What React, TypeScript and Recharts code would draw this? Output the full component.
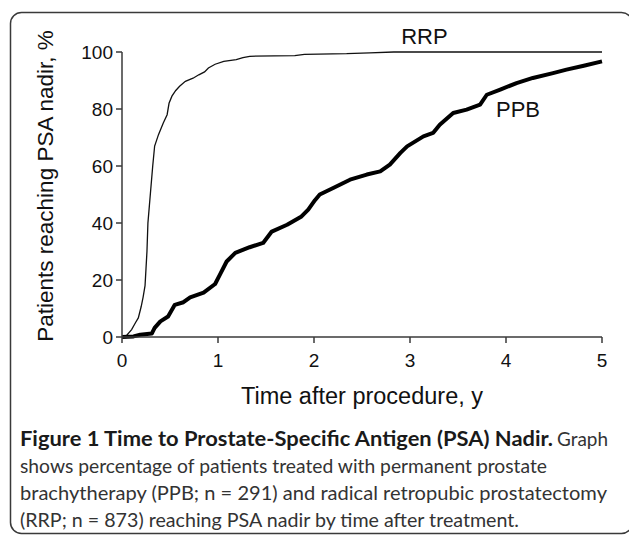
import React from 'react';
import { LineChart, Line, XAxis, YAxis, ReferenceDot, Label } from 'recharts';

// Radical retropubic prostatectomy (RRP): time (years) and % reaching PSA nadir
const rrpTime = [0, 0.05, 0.1, 0.14, 0.17, 0.2, 0.22, 0.24, 0.25, 0.26, 0.27, 0.285, 0.3, 0.32, 0.34, 0.38, 0.43, 0.47, 0.49, 0.52, 0.56, 0.6, 0.66, 0.74, 0.8, 0.86, 0.9, 0.97, 1.06, 1.19, 1.26, 1.33, 1.8, 1.9, 2.34, 2.58, 2.83, 5.0];
const rrpPct = [0, 0.6, 2.6, 5, 6.7, 10.7, 14, 18, 24, 30, 40, 46, 52, 60, 67, 71, 75.1, 78, 82, 84.5, 86.5, 88, 89.7, 90.8, 92, 93, 94.4, 95.7, 96.7, 97.3, 98, 98.5, 98.7, 99.2, 99.4, 99.7, 100, 100];

// Permanent prostate brachytherapy (PPB)
const ppbTime = [0, 0.12, 0.19, 0.31, 0.34, 0.4, 0.48, 0.55, 0.64, 0.71, 0.85, 0.97, 1.02, 1.09, 1.18, 1.33, 1.47, 1.56, 1.72, 1.87, 1.94, 2.01, 2.06, 2.2, 2.375, 2.55, 2.69, 2.79, 2.9, 2.97, 3.14, 3.24, 3.31, 3.45, 3.59, 3.73, 3.8, 3.94, 4.11, 4.28, 4.49, 4.63, 4.81, 5.0];
const ppbPct = [0, 0.2, 0.8, 1.2, 3.2, 5.5, 7.2, 11.3, 12.2, 13.9, 15.6, 18.6, 21.9, 26.5, 29.5, 31.5, 33, 37, 39.4, 42.3, 44.7, 48, 50, 52.3, 55.2, 57, 58.1, 60.5, 64.6, 66.9, 70.4, 71.6, 74.5, 78.6, 79.8, 81.5, 85, 86.8, 89.1, 90.9, 92.6, 93.8, 95.2, 96.7];

const xTicks = [0, 1, 2, 3, 4, 5];
const yTicks = [0, 20, 40, 60, 80, 100];

const seriesLabels = [
  { name: 'RRP', t: 3.15, v: 105.5 },
  { name: 'PPB', t: 4.125, v: 79.8 },
];

const captionBold = 'Figure 1 Time to Prostate-Specific Antigen (PSA) Nadir.';
const captionFirstTail = 'Graph';
const captionLines = [
  'shows percentage of patients treated with permanent prostate',
  'brachytherapy (PPB; n = 291) and radical retropubic prostatectomy',
  '(RRP; n = 873) reaching PSA nadir by time after treatment.',
];

const rrpData = rrpTime.map((t, i) => ({ t, v: rrpPct[i] }));
const ppbData = ppbTime.map((t, i) => ({ t, v: ppbPct[i] }));

const FONT = '"Liberation Sans", Arial, Helvetica, sans-serif';
const CAP_FONT = 'Lato, "Open Sans", sans-serif';
const AXIS = '#3a3a3a';

const YTitle = () => (
  <text
    transform="translate(53,186) rotate(-90)"
    textAnchor="middle"
    fontFamily={FONT}
    fontSize={22.5}
    fill="#111"
  >
    Patients reaching PSA nadir, %
  </text>
);

export default function App() {
  const baselines = [446, 473, 500, 527];
  const lineLengths = [527, 587, 499];
  return (
    <div style={{ position: 'absolute', left: 0, top: 0, width: 629, height: 536, background: '#fff', overflow: 'hidden' }}>
      <svg width={629} height={536} style={{ position: 'absolute', left: 0, top: 0 }}>
        <rect x={10.5} y={12.5} width={622} height={521} rx={11} fill="none" stroke="#3a3a3a" strokeWidth={1.5} />
        <text
          x={20}
          y={baselines[0]}
          fontFamily={CAP_FONT}
          fontSize={20}
          fontWeight="bold"
          fill="#1a1a1a"
          textLength={533}
          lengthAdjust="spacingAndGlyphs"
        >
          {captionBold}
        </text>
        <text
          x={557}
          y={baselines[0]}
          fontFamily={CAP_FONT}
          fontSize={20}
          fill="#333"
          textLength={51}
          lengthAdjust="spacingAndGlyphs"
        >
          {captionFirstTail}
        </text>
        {captionLines.map((s, i) => (
          <text
            key={i}
            x={20}
            y={baselines[i + 1]}
            fontFamily={CAP_FONT}
            fontSize={20}
            fill="#333"
            textLength={lineLengths[i]}
            lengthAdjust="spacingAndGlyphs"
          >
            {s}
          </text>
        ))}
      </svg>
      <div style={{ position: 'absolute', left: 0, top: 0 }}>
        <LineChart width={629} height={536} margin={{ top: 52, right: 27, bottom: 169, left: 62 }}>
          <XAxis
            type="number"
            dataKey="t"
            domain={[0, 5]}
            ticks={xTicks}
            allowDuplicatedCategory={false}
            height={30}
            tickSize={6}
            tickMargin={11}
            axisLine={{ stroke: AXIS, strokeWidth: 1.5 }}
            tickLine={{ stroke: AXIS, strokeWidth: 1.5 }}
            tick={{ fontSize: 19, fill: '#111', fontFamily: FONT }}
          >
            <Label
              value="Time after procedure, y"
              position="bottom"
              offset={20}
              style={{ fontSize: 23.5, fill: '#111', fontFamily: FONT }}
            />
          </XAxis>
          <YAxis
            type="number"
            domain={[0, 100]}
            ticks={yTicks}
            width={60}
            tickSize={6}
            tickMargin={3}
            axisLine={{ stroke: AXIS, strokeWidth: 1.5 }}
            tickLine={{ stroke: AXIS, strokeWidth: 1.5 }}
            tick={{ fontSize: 19, fill: '#111', fontFamily: FONT }}
          >
            <Label content={YTitle} />
          </YAxis>
          <Line
            data={rrpData}
            dataKey="v"
            type="linear"
            stroke="#111"
            strokeWidth={1.3}
            dot={false}
            isAnimationActive={false}
          />
          <Line
            data={ppbData}
            dataKey="v"
            type="linear"
            stroke="#000"
            strokeWidth={4}
            strokeLinejoin="round"
            dot={false}
            isAnimationActive={false}
          />
          {seriesLabels.map((l) => (
            <ReferenceDot
              key={l.name}
              x={l.t}
              y={l.v}
              r={0}
              ifOverflow="visible"
              fill="none"
              stroke="none"
              label={{ value: l.name, position: 'center', fontSize: 22, fill: '#111', fontFamily: FONT }}
            />
          ))}
        </LineChart>
      </div>
    </div>
  );
}
